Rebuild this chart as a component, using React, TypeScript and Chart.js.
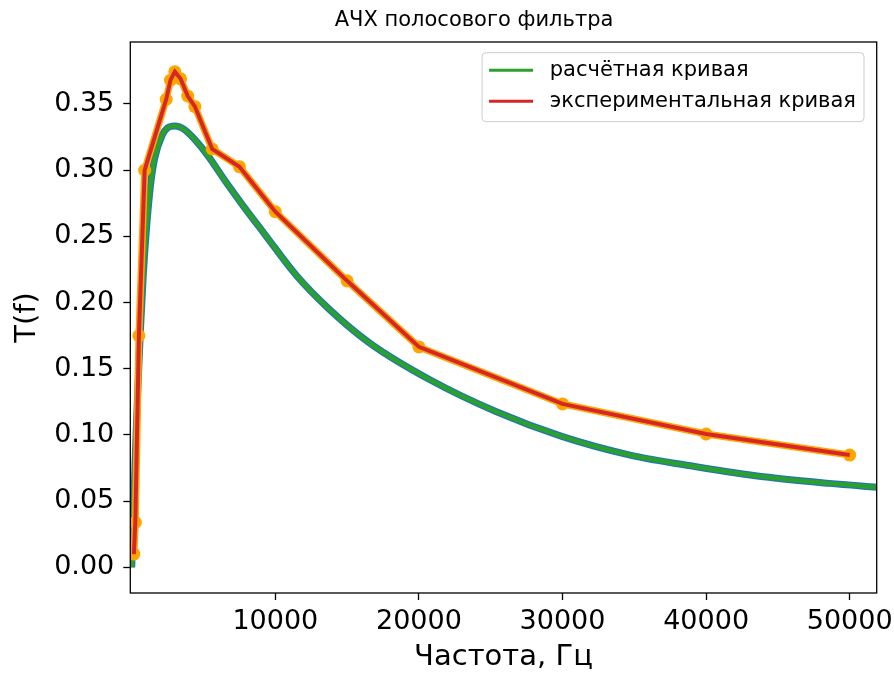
import React, { useEffect, useRef } from 'react';
import { Chart, registerables } from 'chart.js';

Chart.register(...registerables);

// ---- data ----
const chartTitle = 'АЧХ полосового фильтра';
const xAxisLabel = 'Частота, Гц';
const yAxisLabel = 'T(f)';
const calcLabel = 'расчётная кривая';
const expLabel = 'экспериментальная кривая';

const calcFreq = [0, 100, 200, 300, 400, 600, 800, 1000, 1300, 1600, 2100, 2500, 3000, 3700, 4400, 5300, 6500, 7800, 9200, 11500, 13800, 16600, 20800, 25400, 30000, 34700, 39300, 44000, 48600, 51900];
const calcT = [0, 0.035, 0.068, 0.1, 0.128, 0.178, 0.22, 0.252, 0.288, 0.309, 0.326, 0.332, 0.3334, 0.3305, 0.323, 0.311, 0.292, 0.2725, 0.2525, 0.22, 0.1945, 0.1692, 0.1415, 0.1175, 0.0987, 0.0848, 0.076, 0.0684, 0.0634, 0.0605];

const expFreq = [150, 250, 500, 900, 2400, 2700, 3000, 3400, 3900, 4400, 5600, 7500, 10000, 15000, 20000, 30000, 40000, 50000];
const expT = [0.01, 0.034, 0.175, 0.3, 0.3535, 0.368, 0.3744, 0.369, 0.356, 0.348, 0.316, 0.3026, 0.2686, 0.2164, 0.1665, 0.1234, 0.1007, 0.0848];

const xTicks = [10000, 20000, 30000, 40000, 50000];
const yTicks = [0, 0.05, 0.1, 0.15, 0.2, 0.25, 0.3, 0.35];

const FONT = "'DejaVu Sans', sans-serif";

const framePlugin = {
  id: 'frame',
  afterDatasetsDraw(chart: any) {
    const { ctx, chartArea: a } = chart;
    ctx.save();
    ctx.strokeStyle = '#000';
    ctx.lineWidth = 1.3;
    ctx.strokeRect(a.left, a.top, a.right - a.left, a.bottom - a.top);
    ctx.restore();
  },
};

const titlePlugin = {
  id: 'mplTitle',
  afterDraw(chart: any) {
    const { ctx } = chart;
    ctx.save();
    ctx.font = `21px ${FONT}`;
    ctx.fillStyle = '#000';
    ctx.textAlign = 'center';
    ctx.textBaseline = 'middle';
    ctx.fillText(chartTitle, 474, 20.6);
    ctx.restore();
  },
};

const legendPlugin = {
  id: 'mplLegend',
  afterDraw(chart: any) {
    const { ctx, chartArea: a } = chart;
    const items = [
      { text: calcLabel, color: '#2ca02c' },
      { text: expLabel, color: '#d62728' },
    ];
    ctx.save();
    ctx.font = `21px ${FONT}`;
    const tw = Math.max(...items.map((i) => ctx.measureText(i.text).width));
    const padL = 7, lineLen = 44, gap = 16.7, padR = 8;
    const w = padL + lineLen + gap + tw + padR;
    const h = 69;
    const x = a.right - 12.7 - w;
    const y = a.top + 10.7;
    ctx.beginPath();
    ctx.roundRect(x, y, w, h, 4);
    ctx.fillStyle = 'rgba(255,255,255,0.8)';
    ctx.fill();
    ctx.strokeStyle = '#cccccc';
    ctx.lineWidth = 1;
    ctx.stroke();
    items.forEach((it, i) => {
      const cy = y + 17.5 + i * 31;
      ctx.beginPath();
      ctx.moveTo(x + padL, cy);
      ctx.lineTo(x + padL + lineLen, cy);
      ctx.strokeStyle = it.color;
      ctx.lineWidth = 3;
      ctx.stroke();
      ctx.fillStyle = '#000';
      ctx.textBaseline = 'middle';
      ctx.textAlign = 'left';
      ctx.fillText(it.text, x + padL + lineLen + gap, cy);
    });
    ctx.restore();
  },
};

export default function App() {
  const ref = useRef<HTMLCanvasElement>(null);

  useEffect(() => {
    document.body.style.margin = '0';
    const canvas = ref.current;
    if (!canvas) return;
    const calcData = calcFreq.map((x, i) => ({ x, y: calcT[i] }));
    const expData = expFreq.map((x, i) => ({ x, y: expT[i] }));

    const chart = new Chart(canvas, {
      type: 'line',
      data: {
        datasets: [
          {
            label: expLabel,
            data: expData,
            borderColor: '#d62728',
            borderWidth: 4,
            pointRadius: 0,
            tension: 0,
            order: 0,
          },
          {
            label: 'exp points',
            data: expData,
            borderColor: '#ffa500',
            borderWidth: 7,
            pointRadius: 6.5,
            pointBackgroundColor: '#ffa500',
            pointBorderWidth: 0,
            tension: 0,
            order: 1,
          },
          {
            label: calcLabel,
            data: calcData,
            borderColor: '#2ca02c',
            borderWidth: 4.5,
            pointRadius: 0,
            cubicInterpolationMode: 'monotone',
            order: 2,
          },
          {
            label: 'calc under',
            data: calcData,
            borderColor: '#1f77b4',
            borderWidth: 7,
            pointRadius: 0,
            cubicInterpolationMode: 'monotone',
            order: 3,
          },
        ],
      } as any,
      options: {
        responsive: false,
        animation: false,
        devicePixelRatio: 1,
        events: [],
        layout: { padding: { left: 0, right: 17.3, top: 42, bottom: 0 }, autoPadding: false },
        plugins: {
          legend: { display: false },
          tooltip: { enabled: false },
          title: { display: false },
        },
        scales: {
          x: {
            type: 'linear',
            min: -100,
            max: 51880,
            afterBuildTicks: (s: any) => {
              s.ticks = xTicks.map((v) => ({ value: v }));
            },
            afterFit: (s: any) => {
              s.height = 80;
              s.paddingLeft = 0;
              s.paddingRight = 0;
            },
            grid: { drawOnChartArea: false, drawTicks: true, tickLength: 7, tickWidth: 1.3, tickColor: '#000' },
            border: { display: false },
            ticks: {
              color: '#000',
              font: { family: FONT, size: 27 },
              padding: 6,
              maxRotation: 0,
              autoSkip: false,
              callback: (v: any) => String(v),
            },
            title: {
              display: true,
              text: xAxisLabel,
              color: '#000',
              font: { family: FONT, size: 29, lineHeight: 1 },
              padding: { top: 0, bottom: 1.5 },
            },
          },
          y: {
            type: 'linear',
            min: -0.0194,
            max: 0.3968,
            afterBuildTicks: (s: any) => {
              s.ticks = yTicks.map((v) => ({ value: v }));
            },
            afterFit: (s: any) => {
              s.width = 130.3;
              s.paddingTop = 0;
              s.paddingBottom = 0;
            },
            grid: { drawOnChartArea: false, drawTicks: true, tickLength: 7, tickWidth: 1.3, tickColor: '#000' },
            border: { display: false },
            ticks: {
              color: '#000',
              font: { family: FONT, size: 27 },
              padding: 9,
              autoSkip: false,
              callback: (v: any) => Number(v).toFixed(2),
            },
            title: {
              display: true,
              text: yAxisLabel,
              color: '#000',
              font: { family: FONT, size: 29, lineHeight: 1 },
              padding: { top: 12.5, bottom: 0 },
            },
          },
        },
      } as any,
      plugins: [framePlugin, titlePlugin, legendPlugin],
    });
    return () => chart.destroy();
  }, []);

  return <canvas ref={ref} width={894} height={673} style={{ display: 'block' }} />;
}
